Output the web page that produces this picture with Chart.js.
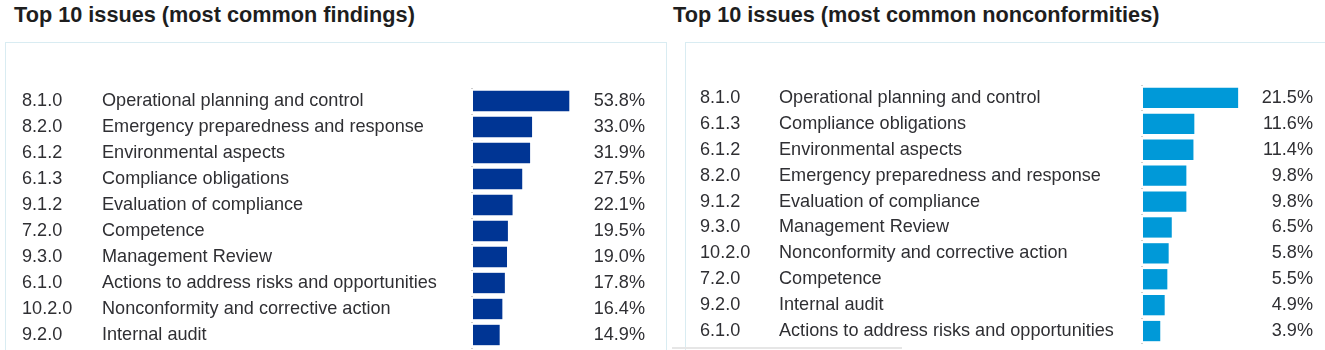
<!DOCTYPE html>
<html>
<head>
<meta charset="utf-8">
<script src="https://cdn.jsdelivr.net/npm/chart.js@4/dist/chart.umd.min.js"></script>
<style>
  html, body { margin: 0; padding: 0; background: #fff; }
  body { width: 1325px; height: 350px; position: relative; overflow: hidden; font-family: "Liberation Sans", Arial, sans-serif; }
  .title { position: absolute; top: 2px; font-weight: bold; font-size: 21.7px; color: #1e1e1e; white-space: nowrap; }
  .box { position: absolute; top: 42px; height: 330px; border: 1px solid #d9ecf2; box-sizing: border-box; }
  canvas { position: absolute; }
</style>
</head>
<body>
<div class="title" style="left:14px">Top 10 issues (most common findings)</div>
<div class="title" style="left:673px">Top 10 issues (most common nonconformities)</div>
<div class="box" style="left:5px; width:662px"></div>
<div class="box" style="left:685px; width:660px"></div>
<div style="position:absolute; left:672px; top:347px; width:230px; height:2px; background:#e6e6e6"></div>
<canvas id="findings" width="661" height="307" style="left:5px; top:43px"></canvas>
<canvas id="nonconf" width="640" height="307" style="left:685px; top:43px"></canvas>
<script>
// top 10 findings
const findingCodes = ["8.1.0", "8.2.0", "6.1.2", "6.1.3", "9.1.2", "7.2.0", "9.3.0", "6.1.0", "10.2.0", "9.2.0"];
const findingNames = [
  "Operational planning and control",
  "Emergency preparedness and response",
  "Environmental aspects",
  "Compliance obligations",
  "Evaluation of compliance",
  "Competence",
  "Management Review",
  "Actions to address risks and opportunities",
  "Nonconformity and corrective action",
  "Internal audit",
];
const findingValues = [53.8, 33.0, 31.9, 27.5, 22.1, 19.5, 19.0, 17.8, 16.4, 14.9];

// top 10 nonconformities
const ncCodes = ["8.1.0", "6.1.3", "6.1.2", "8.2.0", "9.1.2", "9.3.0", "10.2.0", "7.2.0", "9.2.0", "6.1.0"];
const ncNames = [
  "Operational planning and control",
  "Compliance obligations",
  "Environmental aspects",
  "Emergency preparedness and response",
  "Evaluation of compliance",
  "Management Review",
  "Nonconformity and corrective action",
  "Competence",
  "Internal audit",
  "Actions to address risks and opportunities",
];
const ncValues = [21.5, 11.6, 11.4, 9.8, 9.8, 6.5, 5.8, 5.5, 4.9, 3.9];

const TEXT_COLOR = "#2f2f33";
const ROW_FONT = { family: '"Liberation Sans", Arial, sans-serif', size: 18.1 };

Chart.defaults.font.family = ROW_FONT.family;
Chart.defaults.color = TEXT_COLOR;

// draws the clause code column and the value column beside each bar
const rowText = {
  id: "rowText",
  afterDatasetsDraw(chart, args, opts) {
    const { ctx, chartArea } = chart;
    const yScale = chart.scales.y;
    const values = chart.data.datasets[0].data;
    ctx.save();
    ctx.font = ROW_FONT.size + "px " + ROW_FONT.family;
    ctx.fillStyle = TEXT_COLOR;
    ctx.textBaseline = "middle";
    opts.codes.forEach((code, i) => {
      const py = yScale.getPixelForValue(i);
      ctx.textAlign = "left";
      ctx.fillText(code, yScale.left - opts.codeGap, py);
      ctx.textAlign = "right";
      ctx.fillText(values[i].toFixed(1) + "%", chartArea.right - 7, py);
    });
    ctx.restore();
  },
};

function makeChart(id, codes, names, values, color, layout) {
  return new Chart(document.getElementById(id), {
    type: "bar",
    data: {
      labels: names,
      datasets: [
        {
          data: values,
          backgroundColor: color,
          borderWidth: 0,
          barPercentage: 0.8,
          categoryPercentage: 0.98,
        },
      ],
    },
    options: {
      indexAxis: "y",
      responsive: false,
      animation: false,
      layout: { padding: layout.padding },
      plugins: {
        legend: { display: false },
        tooltip: { enabled: false },
        rowText: { codes: codes, codeGap: layout.codeGap },
      },
      scales: {
        x: { display: false, min: 0, max: layout.max },
        y: {
          afterFit: (scale) => {
            // fixed label column, and no extra room for half labels
            scale.width = layout.axisWidth;
            scale.paddingTop = 0;
            scale.paddingBottom = 0;
          },
          border: { display: false },
          grid: { drawOnChartArea: false, tickLength: 2, color: "#cfcfcf" },
          ticks: {
            autoSkip: false,
            crossAlign: "far",
            color: TEXT_COLOR,
            font: ROW_FONT,
          },
        },
      },
    },
    plugins: [rowText],
  });
}

makeChart("findings", findingCodes, findingNames, findingValues, "#003594", {
  padding: { left: 97, right: 14, top: 45, bottom: 2 },
  axisWidth: 371,
  codeGap: 80,
  max: 100,
});

makeChart("nonconf", ncCodes, ncNames, ncValues, "#0099d8", {
  padding: { left: 94, right: 5, top: 42, bottom: 6 },
  axisWidth: 364,
  codeGap: 79,
  max: 40,
});
</script>
</body>
</html>
